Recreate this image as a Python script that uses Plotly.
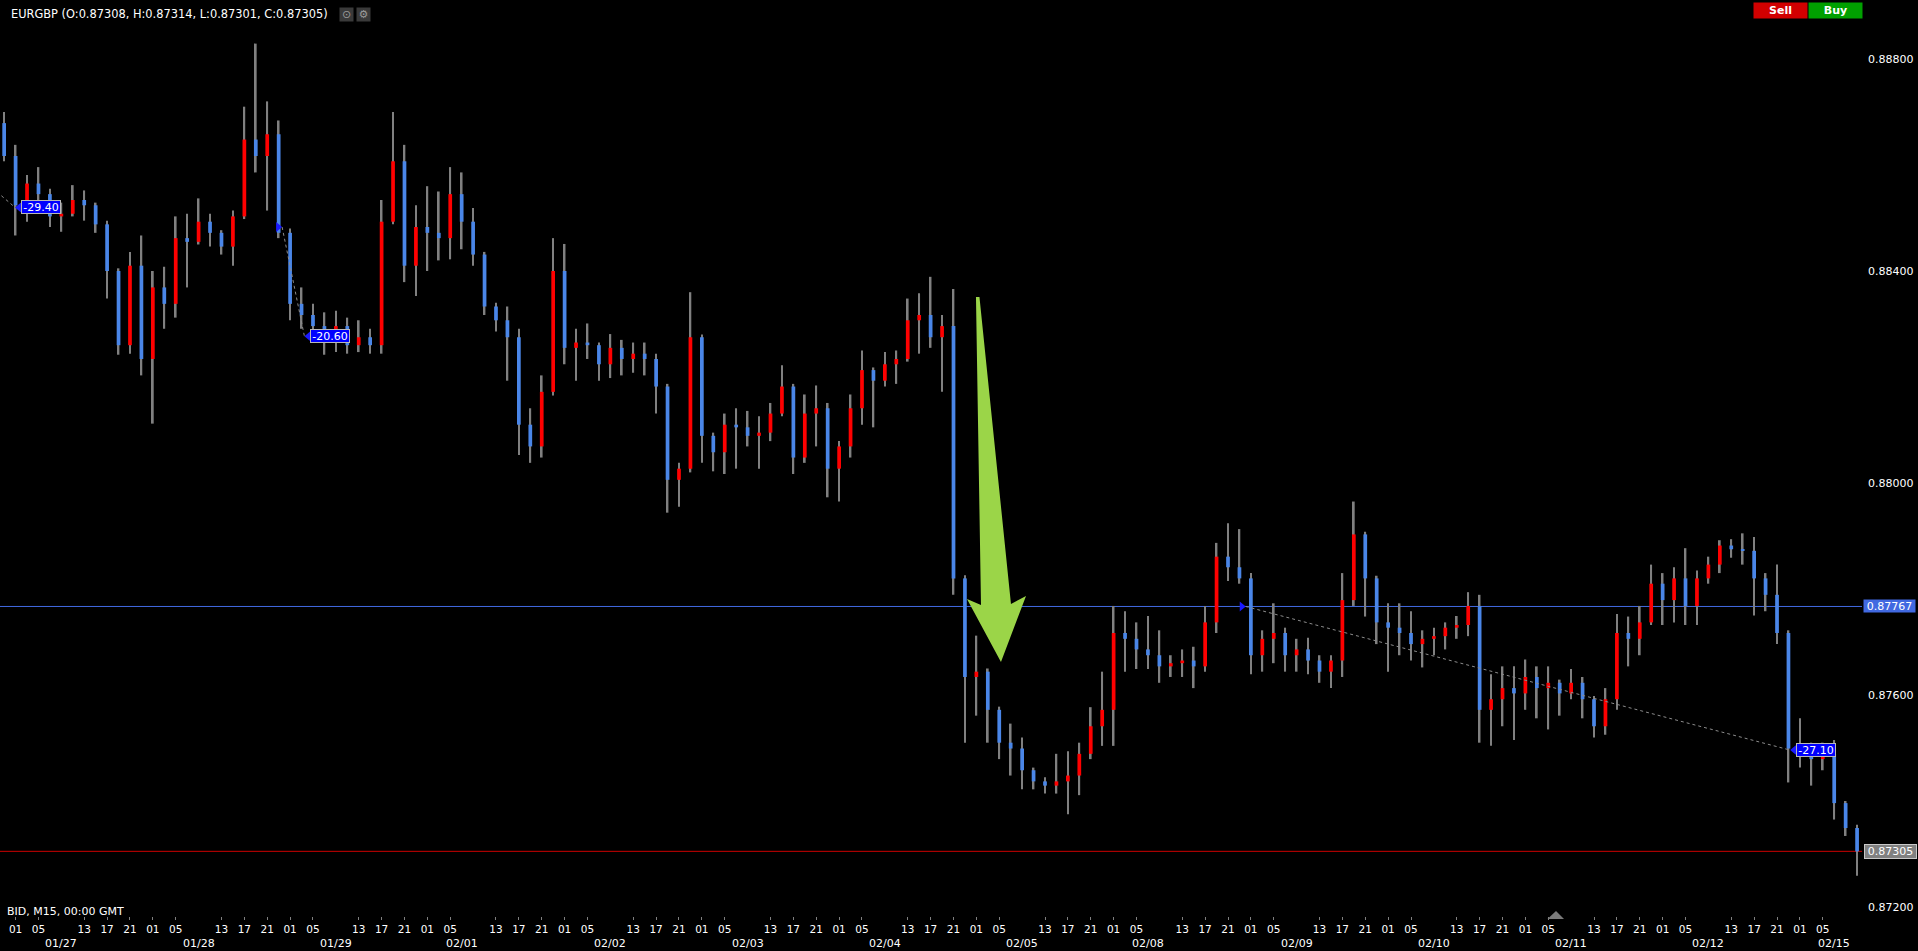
import numpy as np
import plotly.graph_objects as go

# ---------------- data (EURGBP, aggregated to 2-hour candles) ----------------
# x = trading-slot hours since 2021-01-27 00:00 GMT (weekend gap removed), bucket centres
slot_hour = list(range(-1, 324, 2))

opens = [
    .88679, .88617, .88524, .88565, .88545, .88503, .88508, .88534, .88524, .88488,
    .88400, .88260, .88410, .88234, .88369, .88338, .88462, .88455, .88493, .88472,
    .88446, .88503, .88648, .88617, .88658, .88472, .88338, .88317, .88296, .88275,
    .88296, .88260, .88275, .88260, .88493, .88607, .88410, .88483, .88472, .88462,
    .88545, .88493, .88431, .88333, .88307, .88275, .88110, .88069, .88172, .88400,
    .88255, .88265, .88260, .88224, .88255, .88234, .88244, .88234, .88182, .88006,
    .88027, .88275, .88089, .88058, .88110, .88105, .88089, .88095, .88131, .88182,
    .88048, .88131, .88141, .88027, .88069, .88141, .88213, .88193, .88224, .88234,
    .88307, .88317, .88275, .88296, .87820, .87634, .87644, .87572, .87510, .87499,
    .87458, .87437, .87429, .87437, .87448, .87489, .87541, .87572, .87717, .87706,
    .87686, .87675, .87654, .87660, .87665, .87654, .87737, .87861, .87841, .87820,
    .87675, .87706, .87717, .87675, .87686, .87665, .87644, .87665, .87779, .87903,
    .87820, .87737, .87727, .87717, .87696, .87706, .87711, .87727, .87732, .87768,
    .87572, .87592, .87613, .87603, .87634, .87613, .87623, .87603, .87623, .87592,
    .87541, .87592, .87717, .87706, .87737, .87810, .87779, .87820, .87768, .87820,
    .87846, .87882, .87875, .87872, .87820, .87789, .87717, .87499, .87489, .87479,
    .87489, .87396, .87349,
]
highs = [
    .88700, .88638, .88581, .88596, .88555, .88529, .88562, .88552, .88529, .88495,
    .88405, .88436, .88467, .88400, .88408, .88503, .88508, .88537, .88508, .88477,
    .88514, .88710, .88829, .88720, .88684, .88480, .88369, .88338, .88322, .88325,
    .88312, .88307, .88291, .88534, .88700, .88638, .88524, .88560, .88550, .88596,
    .88586, .88519, .88436, .88340, .88333, .88291, .88141, .88203, .88462, .88451,
    .88291, .88301, .88265, .88281, .88270, .88265, .88265, .88244, .88187, .88038,
    .88360, .88280, .88095, .88131, .88141, .88136, .88126, .88151, .88222, .88187,
    .88167, .88184, .88151, .88079, .88167, .88250, .88218, .88247, .88250, .88348,
    .88358, .88389, .88317, .88366, .87826, .87712, .87650, .87578, .87546, .87520,
    .87463, .87445, .87489, .87494, .87510, .87577, .87644, .87768, .87758, .87737,
    .87749, .87722, .87675, .87686, .87691, .87768, .87887, .87924, .87913, .87830,
    .87722, .87773, .87727, .87706, .87708, .87675, .87675, .87830, .87965, .87908,
    .87825, .87773, .87773, .87758, .87722, .87727, .87737, .87749, .87794, .87789,
    .87639, .87654, .87654, .87667, .87654, .87654, .87629, .87649, .87634, .87598,
    .87613, .87753, .87748, .87768, .87846, .87830, .87841, .87877, .87835, .87861,
    .87892, .87894, .87905, .87898, .87830, .87846, .87722, .87556, .87510, .87510,
    .87515, .87400, .87355,
]
lows = [
    .88607, .88467, .88493, .88529, .88483, .88474, .88503, .88495, .88472, .88348,
    .88242, .88244, .88203, .88112, .88291, .88312, .88369, .88450, .88446, .88431,
    .88410, .88498, .88586, .88514, .88462, .88307, .88291, .88275, .88242, .88247,
    .88244, .88247, .88244, .88244, .88488, .88379, .88353, .88400, .88420, .88422,
    .88441, .88410, .88317, .88286, .88193, .88053, .88038, .88048, .88165, .88224,
    .88193, .88234, .88193, .88198, .88203, .88208, .88203, .88131, .87944, .87955,
    .88020, .88038, .88022, .88017, .88027, .88069, .88027, .88079, .88126, .88017,
    .88038, .88069, .87973, .87965, .88048, .88110, .88105, .88182, .88187, .88229,
    .88244, .88255, .88172, .87789, .87510, .87561, .87510, .87479, .87448, .87422,
    .87422, .87414, .87414, .87375, .87411, .87479, .87504, .87504, .87644, .87649,
    .87649, .87623, .87634, .87634, .87613, .87644, .87717, .87815, .87810, .87639,
    .87644, .87660, .87644, .87644, .87639, .87623, .87613, .87634, .87768, .87748,
    .87696, .87644, .87675, .87665, .87652, .87675, .87686, .87706, .87711, .87510,
    .87504, .87541, .87515, .87572, .87556, .87535, .87561, .87592, .87556, .87520,
    .87525, .87572, .87654, .87675, .87732, .87732, .87737, .87732, .87732, .87810,
    .87830, .87859, .87846, .87750, .87758, .87696, .87435, .87463, .87429, .87458,
    .87365, .87334, .87259,
]
closes = [
    .88617, .88524, .88565, .88545, .88503, .88508, .88534, .88524, .88488, .88400,
    .88260, .88410, .88234, .88369, .88338, .88462, .88455, .88493, .88472, .88446,
    .88503, .88648, .88617, .88658, .88472, .88338, .88317, .88296, .88275, .88296,
    .88260, .88275, .88260, .88493, .88607, .88410, .88483, .88472, .88462, .88545,
    .88493, .88431, .88333, .88307, .88275, .88110, .88069, .88172, .88400, .88255,
    .88265, .88260, .88224, .88255, .88234, .88244, .88234, .88182, .88006, .88027,
    .88275, .88089, .88058, .88110, .88105, .88089, .88095, .88131, .88182, .88048,
    .88131, .88141, .88027, .88069, .88141, .88213, .88193, .88224, .88234, .88307,
    .88317, .88275, .88296, .87820, .87634, .87644, .87572, .87510, .87499, .87458,
    .87437, .87429, .87437, .87448, .87489, .87541, .87572, .87717, .87706, .87686,
    .87675, .87654, .87660, .87665, .87654, .87737, .87861, .87841, .87820, .87675,
    .87706, .87717, .87675, .87686, .87665, .87644, .87665, .87779, .87903, .87820,
    .87737, .87727, .87717, .87696, .87706, .87711, .87727, .87732, .87768, .87572,
    .87592, .87613, .87603, .87634, .87613, .87623, .87603, .87623, .87592, .87541,
    .87592, .87717, .87706, .87737, .87810, .87779, .87820, .87768, .87820, .87846,
    .87882, .87875, .87872, .87820, .87789, .87717, .87499, .87489, .87479, .87489,
    .87396, .87349, .87305,
]

# time axis
day_labels = ["01/27", "01/28", "01/29", "02/01", "02/02", "02/03", "02/04",
              "02/05", "02/08", "02/09", "02/10", "02/11", "02/12", "02/15"]
day_start_slot = [0, 24, 48, 72, 96, 120, 144, 168, 192, 216, 240, 264, 288, 312]
day_is_monday = [False, False, False, True, False, False, False,
                 False, True, False, False, False, False, True]
hour_tick_hours = [1, 5, 13, 17, 21]

# price axis
price_ticks = [0.872, 0.876, 0.880, 0.884, 0.888]
level_blue = 0.87767
last_price = 0.87305
header = "EURGBP (O:0.87308, H:0.87314, L:0.87301, C:0.87305)"

# closed trades (entry -> exit, P/L in pips)
trade_open_slot = [-31.0, 47.6, 216.1]
trade_open_price = [0.88814, 0.88483, 0.87767]
trade_close_slot = [0.9, 51.5, 311.3]
trade_close_price = [0.88520, 0.88277, 0.87496]
trade_pips = ["-29.40", "-20.60", "-27.10"]

# ---------------- layout geometry ----------------
W, H = 1918, 951
PL, PR, PT, PB = 0, 1862, 0, 916
x_range = [-1.7276, 323.86]
y_range = [0.871830, 0.889113]
DX = (x_range[1] - x_range[0]) / (PR - PL)   # data units per px
DP = (y_range[1] - y_range[0]) / (PB - PT)

def pxx(px):
    return (px - PL) / (PR - PL)

def pyy(py):
    return (PB - py) / (PB - PT)

FONT = "DejaVu Sans"
UP, DOWN, WICK = "#ff0000", "#4a86e8", "#808080"

o = np.array(opens); h = np.array(highs); l = np.array(lows); c = np.array(closes)
body_base = np.minimum(o, c)
body_len = np.maximum(np.abs(c - o), 0.000015)
body_col = [UP if cc > oo else DOWN for oo, cc in zip(o, c)]

fig = go.Figure()
fig.add_trace(go.Bar(x=slot_hour, y=h - l, base=l, width=0.3,
                     marker=dict(color=WICK, line=dict(width=0)), hoverinfo="skip"))
fig.add_trace(go.Bar(x=slot_hour, y=body_len, base=body_base, width=0.65,
                     marker=dict(color=body_col, line=dict(width=0)), hoverinfo="skip"))

# x ticks
tickvals, ticktext = [], []
for s in day_start_slot:
    for hh in hour_tick_hours:
        tickvals.append(s + hh)
        ticktext.append(f"{hh:02d}")

shapes = []
annotations = []

# horizontal levels
shapes.append(dict(type="line", xref="paper", yref="y", x0=0, x1=1, y0=level_blue, y1=level_blue,
                   line=dict(color="#4169e1", width=1), layer="below"))
shapes.append(dict(type="line", xref="paper", yref="y", x0=0, x1=1, y0=last_price, y1=last_price,
                   line=dict(color="#cc0000", width=1), layer="below"))

# trades
for ox, op, cx, cp, pl in zip(trade_open_slot, trade_open_price, trade_close_slot,
                              trade_close_price, trade_pips):
    shapes.append(dict(type="line", xref="x", yref="y", x0=ox, y0=op, x1=cx, y1=cp,
                       line=dict(color="#8c8c8c", width=1, dash="dot")))
    shapes.append(dict(type="path", xref="x", yref="y",
                       path=f"M {ox},{op} L {ox - 6 * DX},{op + 5 * DP} L {ox - 6 * DX},{op - 5 * DP} Z",
                       fillcolor="#1a1aff", line=dict(width=0)))
    shapes.append(dict(type="path", xref="x", yref="y",
                       path=f"M {cx},{cp} L {cx + 6 * DX},{cp + 5 * DP} L {cx + 6 * DX},{cp - 5 * DP} Z",
                       fillcolor="#1a1aff", line=dict(width=0)))
    annotations.append(dict(x=cx, y=cp, xref="x", yref="y", xanchor="left", yanchor="middle",
                            xshift=6, text=pl, showarrow=False, bgcolor="#0000ff",
                            bordercolor="#b8b8b8", borderwidth=1, borderpad=0, width=38, height=12,
                            font=dict(family=FONT, size=11, color="#ffffff")))

# green arrow (annotation drawn on the chart)
arrow_x = [168.93, 169.54, 175.05, 177.68, 173.30, 167.36, 169.81]
arrow_p = [0.883509, 0.883509, 0.877717, 0.877868, 0.876623, 0.877811, 0.877698]
path = "M " + " L ".join(f"{ax},{ap}" for ax, ap in zip(arrow_x, arrow_p)) + " Z"
shapes.append(dict(type="path", xref="x", yref="y", path=path, fillcolor="#9bd548",
                   line=dict(width=0)))

# small grey marker on time axis
shapes.append(dict(type="path", xref="paper", yref="paper",
                   path=f"M {pxx(1547.5)},{pyy(919)} L {pxx(1564)},{pyy(919)} L {pxx(1556)},{pyy(911)} Z",
                   fillcolor="#7a7a7a", line=dict(width=0)))

# date labels
for lab, s, mon in zip(day_labels, day_start_slot, day_is_monday):
    annotations.append(dict(x=s + (7 if mon else 9), y=pyy(943), xref="x", yref="paper",
                            xanchor="center", yanchor="middle", text=lab, showarrow=False,
                            font=dict(family=FONT, size=11, color="#ffffff")))

# header text & icons
annotations.append(dict(x=pxx(9), y=pyy(14), xref="paper", yref="paper", xanchor="left",
                        yanchor="middle", text=header, showarrow=False,
                        font=dict(family=FONT, size=11.4, color="#ffffff")))
for cxp, sym in [(346, "⊙"), (363.5, "⚙")]:
    annotations.append(dict(x=pxx(cxp), y=pyy(14.5), xref="paper", yref="paper", xanchor="center",
                            yanchor="middle", text=sym, showarrow=False, bgcolor="#3a3a3a",
                            width=13, height=13, borderpad=0,
                            font=dict(family=FONT, size=11, color="#9a9a9a")))
annotations.append(dict(x=pxx(5), y=pyy(911), xref="paper", yref="paper", xanchor="left",
                        yanchor="middle", text="BID, M15, 00:00 GMT", showarrow=False,
                        font=dict(family=FONT, size=11, color="#ffffff")))

# Sell / Buy buttons
for x0, txt, col in [(1753, "Sell", "#d20000"), (1808, "Buy", "#00a000")]:
    annotations.append(dict(x=pxx(x0), y=pyy(2), xref="paper", yref="paper", xanchor="left",
                            yanchor="top", text=f"<b>{txt}</b>", showarrow=False, bgcolor=col,
                            width=53, height=15, borderpad=0,
                            font=dict(family=FONT, size=11, color="#ffffff")))

# right-side price boxes
annotations.append(dict(x=pxx(1863), y=level_blue, xref="paper", yref="y", xanchor="left",
                        yanchor="middle", text=f"{level_blue:.5f}", showarrow=False,
                        bgcolor="#4169e1", width=51, height=12, borderpad=0,
                        font=dict(family=FONT, size=11, color="#ffffff")))
annotations.append(dict(x=pxx(1864), y=last_price, xref="paper", yref="y", xanchor="left",
                        yanchor="middle", text=f"{last_price:.5f}", showarrow=False,
                        bgcolor="#808080", bordercolor="#c8c8c8", borderwidth=1, width=51,
                        height=13, borderpad=0,
                        font=dict(family=FONT, size=11, color="#ffffff")))

fig.update_layout(
    width=W, height=H,
    margin=dict(l=PL, r=W - PR, t=PT, b=H - PB, pad=0),
    paper_bgcolor="#000000", plot_bgcolor="#000000",
    showlegend=False, barmode="overlay", hovermode=False,
    shapes=shapes, annotations=annotations,
    xaxis=dict(range=x_range, tickvals=tickvals, ticktext=ticktext, showgrid=False,
               zeroline=False, showline=False, ticks="outside", ticklen=3, tickwidth=1,
               tickcolor="#808080", tickfont=dict(family=FONT, size=10.5, color="#ffffff"),
               fixedrange=True, automargin=False),
    yaxis=dict(range=y_range, side="right", tickvals=price_ticks,
               ticktext=[f"{p:.5f}" for p in price_ticks], showgrid=False, zeroline=False,
               showline=False, ticks="", ticklabelstandoff=5,
               tickfont=dict(family=FONT, size=11, color="#ffffff"),
               fixedrange=True, automargin=False),
)

fig.write_html("out.html", config={"displayModeBar": False},
               post_script="document.body.style.margin='0px';"
                           "document.body.style.background='#000000';"
                           "document.body.style.overflow='hidden';")
